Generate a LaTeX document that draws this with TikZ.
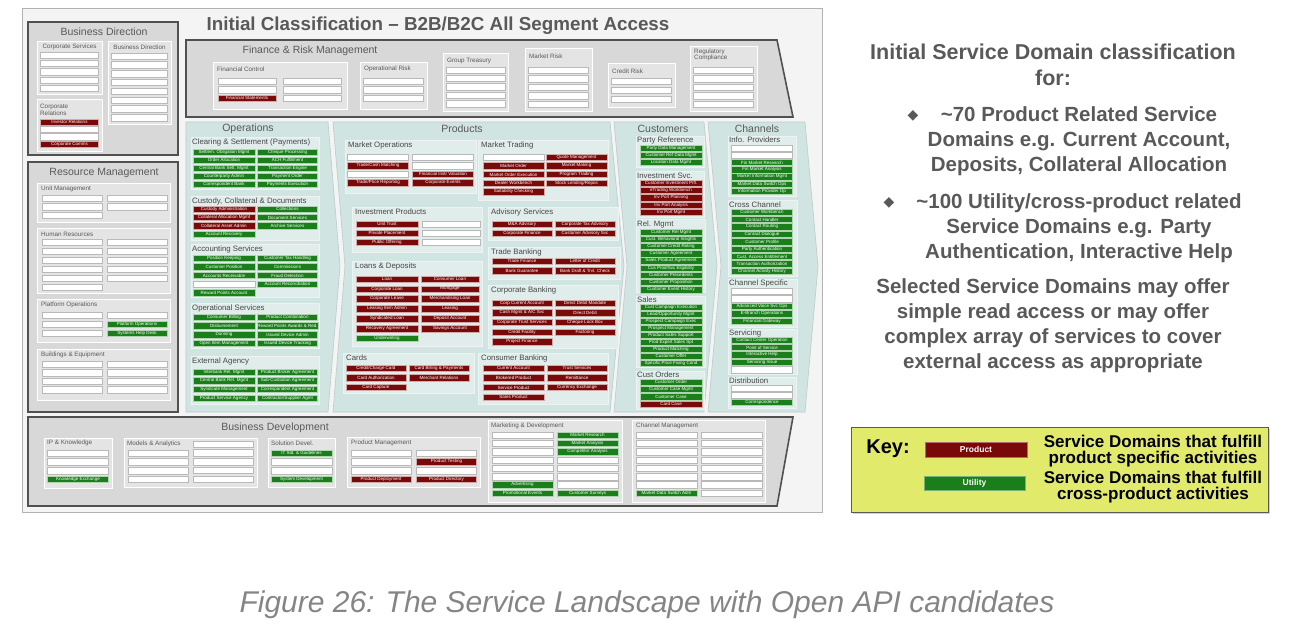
\documentclass[tikz,border=0pt]{standalone}
\usepackage{fontspec}
\setmainfont{Liberation Sans}
\newfontfamily\dejavu{DejaVu Sans}
\usetikzlibrary{shadows}
\definecolor{prodred}{HTML}{7A0A0A}
\definecolor{utilgreen}{HTML}{1A7F1A}
\definecolor{panelgray}{HTML}{D8D8D8}
\definecolor{panelborder}{HTML}{505050}
\definecolor{subgray}{HTML}{E4E4E4}
\definecolor{teal1}{HTML}{D0E4E1}
\definecolor{teal2}{HTML}{E1EDEB}
\definecolor{txtgray}{HTML}{595959}
\definecolor{keyyellow}{HTML}{E2EA6C}
\definecolor{capgray}{HTML}{858585}
\definecolor{framebg}{HTML}{F4F4F4}
\tikzset{
 sdb/.style={draw, line width=0.35pt, inner sep=0pt, minimum height=6.4pt, font=\fontsize{4.5}{4.5}\selectfont, anchor=center},
 sdp/.style={sdb, fill=prodred, draw=prodred!35, text=white},
 sdu/.style={sdb, fill=utilgreen, draw=utilgreen!35, text=white},
 sdw/.style={sdb, fill=white, draw=gray!55},
 bigpanel/.style={fill=panelgray, draw=panelborder, line width=1.6pt},
 tealpanel/.style={fill=teal1, draw=teal1!75!gray, line width=0.6pt},
 subg/.style={fill=subgray, draw=white, line width=0.7pt},
 subt/.style={fill=teal2, draw=white!60!teal1, line width=0.7pt},
 ptitle/.style={font=\fontsize{10.5}{11}\selectfont, text=txtgray, inner sep=0pt},
 stitle/.style={font=\fontsize{6.3}{6.6}\selectfont, text=txtgray, anchor=west, inner sep=0pt, align=left},
 ttitle/.style={font=\fontsize{7.8}{8}\selectfont, text=txtgray!80!black, anchor=west, inner sep=0pt},
 rtxt/.style={font=\fontsize{20.5}{25}\selectfont\bfseries, text=txtgray, align=center, inner sep=0pt},
 ktxt/.style={font=\fontsize{17}{16}\selectfont\bfseries, text=black, align=center, inner sep=0pt}
}
\newcommand\sdit[6]{\node[#1, minimum width=#5] (#2) at ({#3},{#4}) {#6};}
\newcommand\sdcol[6]{%
 \foreach \s/\t [count=\i] in {#6} {\expandafter\sdit\expandafter{\s}{#1\i}{#2}{#3+(\i-1)*#4}{#5}{\t}}}
\begin{document}
\begin{tikzpicture}[x=1pt,y=-1pt]
\useasboundingbox (0,0) rectangle (1291,633);
\draw[fill=framebg, draw=gray!60] (22,8) rectangle (822,512);
\node[font=\fontsize{18.8}{19}\selectfont\bfseries, text=txtgray] (maintitle) at (438,26) {Initial Classification – B2B/B2C All Segment Access};

% ---------------- Business Direction
\draw[bigpanel] (28,22) rectangle (178,155);
\node[ptitle] (bdt) at (104,32) {Business Direction};
\draw[subg] (37,41) rectangle (102,94);
\node[stitle, anchor=center] (cst) at (69.5,47) {Corporate Services};
\sdcol{cs}{69.5}{55}{8.3}{58}{sdw/{},sdw/{},sdw/{},sdw/{},sdw/{}}
\draw[subg] (108,41) rectangle (171,124);
\node[stitle, anchor=center] (bdst) at (139.5,47) {Business Direction};
\sdcol{bds}{139.5}{56}{8.8}{56}{sdw/{},sdw/{},sdw/{},sdw/{},sdw/{},sdw/{},sdw/{},sdw/{}}
\draw[subg] (37,99) rectangle (102,151);
\node[stitle] (crt) at (40,110) {Corporate\\Relations};
\sdcol{cr}{69.5}{122}{7.3}{58}{sdp/Investor Relations,sdw/{},sdw/{},sdp/Corporate Comms}

% ---------------- Finance & Risk
\draw[bigpanel] (186,40) -- (777,40) -- (793,117) -- (186,117) -- cycle;
\node[ptitle] (frt) at (310,51) {Finance \& Risk Management};
\draw[subg] (213,62) rectangle (347,109);
\node[stitle] (fct) at (217,69) {Financial Control};
\sdcol{fca}{247}{81}{8.5}{58}{sdw/{},sdw/{},sdp/Financial Statements}
\sdcol{fcb}{312}{81}{8.5}{58}{sdw/{},sdw/{},sdw/{}}
\draw[subg] (360,62) rectangle (427,109);
\node[stitle] (ort) at (364,69) {Operational Risk};
\sdcol{or}{393.5}{81}{8.5}{60}{sdw/{},sdw/{},sdw/{}}
\draw[subg] (443,53) rectangle (508,111);
\node[stitle] (gtt) at (447,61) {Group Treasury};
\sdcol{gt}{475.5}{70}{8.4}{59}{sdw/{},sdw/{},sdw/{},sdw/{},sdw/{}}
\draw[subg] (525,48) rectangle (592,111);
\node[stitle] (mrt) at (529,56) {Market Risk};
\sdcol{mr}{558.5}{70}{8.6}{60}{sdw/{},sdw/{},sdw/{},sdw/{},sdw/{}}
\draw[subg] (608,63) rectangle (675,107);
\node[stitle] (crkt) at (612,71) {Credit Risk};
\sdcol{crk}{641.5}{81}{9}{60}{sdw/{},sdw/{},sdw/{}}
\draw[subg] (690,46) rectangle (757,111);
\node[stitle] (rct) at (694,55) {Regulatory\\Compliance};
\sdcol{rc}{723.5}{70}{8.5}{60}{sdw/{},sdw/{},sdw/{},sdw/{},sdw/{}}

% ---------------- Resource Management
\draw[bigpanel] (28,162) rectangle (178,412);
\node[ptitle] (rmt) at (104,173) {Resource Management};
\draw[subg] (37,183) rectangle (170,222);
\node[stitle] (umt) at (41,189) {Unit Management};
\sdcol{uma}{72}{198}{8.6}{60}{sdw/{},sdw/{},sdw/{}}
\sdcol{umb}{137}{198}{8.6}{60}{sdw/{},sdw/{}}
\draw[subg] (37,228) rectangle (170,293);
\node[stitle] (hrt) at (41,234) {Human Resources};
\sdcol{hra}{72}{242}{9}{60}{sdw/{},sdw/{},sdw/{},sdw/{},sdw/{},sdw/{}}
\sdcol{hrb}{137}{242}{9}{60}{sdw/{},sdw/{},sdw/{},sdw/{},sdw/{}}
\draw[subg] (37,299) rectangle (170,342);
\node[stitle] (pot) at (41,305) {Platform Operations};
\sdcol{poa}{72}{315}{9}{60}{sdw/{},sdw/{},sdw/{}}
\sdcol{pob}{137}{315}{9}{60}{sdw/{},sdu/Platform Operations,sdu/Systems Help Desk}
\draw[subg] (37,349) rectangle (170,400);
\node[stitle] (bet) at (41,355) {Buildings \& Equipment};
\sdcol{bea}{72}{364}{8.5}{60}{sdw/{},sdw/{},sdw/{},sdw/{}}
\sdcol{beb}{137}{364}{8.5}{60}{sdw/{},sdw/{},sdw/{},sdw/{}}

% ---------------- Operations
\draw[tealpanel] (186,122) -- (328,122) -- (340,266) -- (328,412) -- (186,412) -- cycle;
\node[ptitle] (opt) at (248,129) {Operations};
\draw[subt] (191,137) rectangle (319,189);
\node[ttitle] (cspt) at (192,142) {Clearing \& Settlement (Payments)};
\sdcol{csa}{224}{152}{8.1}{62}{sdu/Settlem. Obligation Mgmt,sdu/Order Allocation,sdu/Central Bank Sett. Mgmt,sdu/Counterparty Admin,sdu/Correspondent Bank}
\sdcol{csb}{287.5}{152}{8.1}{60}{sdu/Cheque Processing,sdu/ACH Fulfillment,sdu/Transaction Engine,sdu/Payment Order,sdu/Payments Execution}
\draw[subt] (191,196) rectangle (319,240);
\node[ttitle] (ccdt) at (192,201) {Custody, Collateral \& Documents};
\sdcol{cca}{224}{209}{8.4}{62}{sdp/Custody Administration,sdp/Collateral Allocation Mgmt,sdp/Collateral Asset Admin,sdu/Account Recovery}
\sdcol{ccb}{287.5}{209}{8.4}{60}{sdu/Collections,sdu/Document Services,sdu/Archive Services}
\draw[subt] (191,244) rectangle (319,297);
\node[ttitle] (ast) at (192,249) {Accounting Services};
\sdcol{asa}{224}{258}{8.7}{62}{sdu/Position Keeping,sdu/Customer Position,sdu/Accounts Receivable,sdw/{},sdu/Reward Points Account}
\sdcol{asb}{287.5}{258}{8.7}{60}{sdu/Customer Tax Handling,sdu/Commissions,sdu/Fraud Detection,sdu/Account Reconciliation}
\draw[subt] (191,303) rectangle (319,348);
\node[ttitle] (ost) at (192,308) {Operational Services};
\sdcol{osa}{224}{317}{8.8}{62}{sdu/Consumer Billing,sdu/Disbursement,sdu/Dunning,sdu/Open Item Management}
\sdcol{osb}{287.5}{317}{8.8}{60}{sdu/Product Combination,sdu/Reward Points Awards \& Red.,sdu/Issued Device Admin,sdu/Issued Device Tracking}
\draw[subt] (191,356) rectangle (319,404);
\node[ttitle] (eat) at (192,361) {External Agency};
\sdcol{eaa}{224}{372}{8.7}{62}{sdu/Interbank Rel. Mgmt,sdu/Central Bank Rel. Mgmt,sdu/Syndicate Management,sdu/Product Service Agency}
\sdcol{eab}{287.5}{372}{8.7}{60}{sdu/Product Broker Agreement,sdu/Sub-Custodian Agreement,sdu/Correspondent Agreement,sdu/{Contractor/Supplier Agmt}}

% ---------------- Products
\draw[tealpanel] (333,122) -- (610,122) -- (624,266) -- (610,412) -- (333,412) -- (345,266) -- cycle;
\node[ptitle] (prt) at (462,129) {Products};
\draw[subt] (345,140) rectangle (476,193);
\node[ttitle] (mot) at (348,145) {Market Operations};
\sdcol{moa}{378}{157}{8.6}{61}{sdw/{},sdp/{Trade/Cash Matching},sdw/{},sdp/{Trade/Price Reporting}}
\sdcol{mob}{443}{157}{8.6}{61}{sdw/{},sdw/{},sdp/Financial Instr Valuation,sdp/Corporate Events}
\draw[subt] (478,140) rectangle (608,200);
\node[ttitle] (mtt) at (481,145) {Market Trading};
\sdcol{mta}{513.5}{157}{8.7}{61}{sdw/{},sdp/Market Order,sdp/Market Order Execution,sdp/Dealer Workbench,sdp/Suitability Checking}
\sdcol{mtb}{576.5}{157}{8.7}{61}{sdp/Quote Management,sdp/Market Making,sdp/Program Trading,sdp/{Stock Lending/Repos}}
\draw[subt] (352,207) rectangle (482,252);
\node[ttitle] (ipt) at (355,212) {Investment Products};
\sdcol{ipa}{387}{224}{9}{62}{sdp/Unit Trust,sdp/Private Placement,sdp/Public Offering}
\sdcol{ipb}{451}{224}{9}{58}{sdw/{},sdw/{},sdw/{}}
\draw[subt] (488,207) rectangle (618,240);
\node[ttitle] (avt) at (491,212) {Advisory Services};
\sdcol{ava}{522}{224}{9.2}{60}{sdp/M\&A Advisory,sdp/Corporate Finance}
\sdcol{avb}{585}{224}{9.2}{60}{sdp/Corporate Tax Advisory,sdp/Customer Advisory Svc}
\draw[subt] (488,247) rectangle (620,279);
\node[ttitle] (tbt) at (491,252) {Trade Banking};
\sdcol{tba}{522}{261}{9.5}{60}{sdp/Trade Finance,sdp/Bank Guarantee}
\sdcol{tbb}{585}{261}{9.5}{60}{sdp/Letter of Credit,sdp/Bank Draft \& Trvl. Check}
\draw[subt] (352,261) rectangle (482,346);
\node[ttitle] (ldt) at (355,266) {Loans \& Deposits};
\sdcol{lda}{387}{279}{9.9}{62}{sdp/Loan,sdp/Corporate Loan,sdp/Corporate Lease,sdp/Leasing Item Admin,sdp/Syndicated Loan,sdp/Recovery Agreement,sdu/Underwriting}
\sdcol{ldb}{450}{279}{9.9}{58}{sdp/Consumer Loan,sdp/Mortgage,sdp/Merchandising Loan,sdp/Leasing,sdp/Deposit Account,sdp/Savings Account}
\draw[subt] (488,285) rectangle (618,348);
\node[ttitle] (cbt) at (491,290) {Corporate Banking};
\sdcol{cba}{522}{303}{9.7}{60}{sdp/Corp Current Account,sdp/{Cash Mgmt \& A/C Svc},sdp/Corporate Trust Services,sdp/Credit Facility,sdp/Project Finance}
\sdcol{cbb}{585}{303}{9.7}{60}{sdp/Direct Debit Mandate,sdp/Direct Debit,sdp/Cheque Lock Box,sdp/Factoring}
\draw[subt] (343,353) rectangle (474,393);
\node[ttitle] (cdt) at (346,358) {Cards};
\sdcol{cda}{376}{368}{9.5}{60}{sdp/{Credit/Charge Card},sdp/Card Authorization,sdp/Card Capture}
\sdcol{cdb}{439}{368}{9.5}{60}{sdp/Card Billing \& Payments,sdp/Merchant Relations}
\draw[subt] (478,353) rectangle (608,404);
\node[ttitle] (cnt) at (481,358) {Consumer Banking};
\sdcol{cna}{513.5}{368}{9.7}{61}{sdp/Current Account,sdp/Brokered Product,sdp/Service Product,sdp/Sales Product}
\sdcol{cnb}{577}{368}{9.7}{60}{sdp/Trust Services,sdp/Remittance,sdp/Currency Exchange}

% ---------------- Customers
\draw[tealpanel] (614,122) -- (704,122) -- (717,266) -- (704,412) -- (614,412) -- (627,266) -- cycle;
\node[ptitle] (cut) at (663,129) {Customers};
\draw[subt] (636,136) rectangle (704,167);
\node[ttitle] (prft) at (637,140) {Party Reference};
\sdcol{prf}{671}{148}{7}{62}{sdu/Party Data Management,sdu/Customer Ref Data Mgmt,sdu/Location Data Mgmt}
\draw[subt] (636,171) rectangle (704,217);
\node[ttitle] (ivt) at (637,176) {Investment Svc.};
\sdcol{iv}{671}{183}{7.3}{62}{sdp/Customer Investment Prfl.,sdp/eTrading Workbench,sdp/Inv Port Planning,sdp/Inv Port Analysis,sdp/Inv Port Mgmt}
\draw[subt] (636,219) rectangle (705,292);
\node[ttitle] (rlt) at (637,224) {Rel. Mgmt};
\sdcol{rl}{671}{232}{7.2}{62}{sdu/Customer Rel Mgmt,sdu/Cust. Behavioral Insights,sdu/Customer Credit Rating,sdu/Customer Agreement,sdu/Sales Product Agreement,sdu/{Cus Prod/Svc Eligibility},sdu/Customer Precedents,sdu/Customer Proposition,sdu/Customer Event History}
\draw[subt] (636,296) rectangle (705,367);
\node[ttitle] (slt) at (637,300) {Sales};
\sdcol{sl}{671}{307}{7.05}{62}{sdu/Cust Campaign Execution,sdu/{Lead/Opportunity Mgmt},sdu/Prospect Campaign Exec,sdu/Prospect Management,sdu/Product Sales Support,sdu/Prod Expert Sales Spt,sdu/Product Matching,sdu/Customer Offer,sdu/Specific Price Fixing Cond}
\draw[subt] (636,371) rectangle (704,409);
\node[ttitle] (cot) at (637,375) {Cust Orders};
\sdcol{co}{671}{382}{7.3}{62}{sdu/Customer Order,sdu/Customer Case Mgmt,sdu/Customer Case,sdp/Card Case}

% ---------------- Channels
\draw[tealpanel] (708,122) -- (805,122) -- (818,266) -- (805,412) -- (708,412) -- (721,266) -- cycle;
\node[ptitle] (cht) at (757,129) {Channels};
\draw[subt] (728,136) rectangle (796,196);
\node[ttitle] (ipvt) at (729,140) {Info. Providers};
\sdcol{ipv}{762}{148}{7.2}{61}{sdw/{},sdw/{},sdu/Fin Market Research,sdu/Fin Market Analysis,sdu/Market Information Mgmt,sdu/Market Data Switch Ops,sdu/Information Provider Op}
\draw[subt] (728,200) rectangle (797,276);
\node[ttitle] (xct) at (729,205) {Cross Channel};
\sdcol{xc}{762}{212}{7.4}{61}{sdu/Customer Workbench,sdu/Contact Handler,sdu/Contact Routing,sdu/Contact Dialogue,sdu/Customer Profile,sdu/Party Authentication,sdu/Cust. Access Entitlement,sdu/Transaction Authorization,sdu/Channel Activity History}
\draw[subt] (728,279) rectangle (797,327);
\node[ttitle] (cspt2) at (729,283) {Channel Specific};
\sdcol{chs}{762}{291}{7.6}{61}{sdw/{},sdw/{},sdu/Advanced Voice Svc Ops,sdu/E-Branch Operations,sdu/Financial Gateway}
\draw[subt] (728,329) rectangle (797,374);
\node[ttitle] (svt) at (729,333) {Servicing};
\sdcol{sv}{762}{340}{7.4}{61}{sdu/Contact Center Operation,sdu/Point of Service,sdu/Interactive Help,sdu/Servicing Issue,sdw/{}}
\draw[subt] (728,377) rectangle (796,408);
\node[ttitle] (dst) at (729,381) {Distribution};
\sdcol{ds}{762}{388}{7}{61}{sdw/{},sdw/{},sdu/Correspondence}

% ---------------- Business Development
\draw[bigpanel] (28,417) -- (793,417) -- (777,506) -- (28,506) -- cycle;
\node[ptitle] (bdvt) at (275,428) {Business Development};
\draw[subg] (44,438) rectangle (112,488);
\node[stitle] (ikt) at (47,443) {IP \& Knowledge};
\sdcol{ik}{78}{453}{8.8}{61}{sdw/{},sdw/{},sdw/{},sdu/Knowledge Exchange}
\draw[subg] (124,438) rectangle (257,487);
\node[stitle] (mat) at (127,444) {Models \& Analytics};
\sdcol{maa}{158}{453}{8.8}{60}{sdw/{},sdw/{},sdw/{},sdw/{}}
\sdcol{mab}{223}{444}{8.8}{60}{sdw/{},sdw/{},sdw/{},sdw/{},sdw/{}}
\draw[subg] (268,438) rectangle (335,487);
\node[stitle] (sdt) at (271,443) {Solution Devel.};
\sdcol{sdv}{301.5}{453}{8.8}{61}{sdu/IT Std. \& Guidelines,sdw/{},sdw/{},sdu/System Development}
\draw[subg] (347,437) rectangle (480,487);
\node[stitle] (pmt) at (351,443) {Product Management};
\sdcol{pma}{381}{453}{8.8}{60}{sdw/{},sdw/{},sdw/{},sdp/Product Deployment}
\sdcol{pmb}{446.5}{453}{8.8}{60}{sdw/{},sdp/Product Testing,sdw/{},sdp/Product Directory}
\draw[subg] (488,420) rectangle (622,502);
\node[stitle] (mdt) at (491,426) {Marketing \& Development};
\sdcol{mda}{522.5}{435}{8.3}{61}{sdw/{},sdw/{},sdw/{},sdw/{},sdw/{},sdw/{},sdu/Advertising,sdu/Promotional Events}
\sdcol{mdb}{587.5}{435}{8.3}{61}{sdu/Market Research,sdu/Market Analysis,sdu/Competitor Analysis,sdw/{},sdw/{},sdw/{},sdw/{},sdu/Customer Surveys}
\draw[subg] (632,420) rectangle (765,502);
\node[stitle] (cmt) at (636,426) {Channel Management};
\sdcol{cma}{666.5}{435}{8.3}{61}{sdw/{},sdw/{},sdw/{},sdw/{},sdw/{},sdw/{},sdw/{},sdu/Market Data Switch Adm}
\sdcol{cmb}{731.5}{435}{8.3}{61}{sdw/{},sdw/{},sdw/{},sdw/{},sdw/{},sdw/{},sdw/{},sdw/{}}

% ---------------- Right-hand text
\node[rtxt, font=\fontsize{21.5}{26}\selectfont\bfseries] (hdr) at (1053,65) {Initial Service Domain classification\\for:};
\node[text=txtgray, inner sep=0pt, font=\dejavu\fontsize{14}{14}\selectfont] (bul1) at (913,116) {◆};
\node[rtxt] (b1) at (1079,141) {\textasciitilde70 Product Related Service\\Domains e.g. Current Account,\\Deposits, Collateral Allocation};
\node[text=txtgray, inner sep=0pt, font=\dejavu\fontsize{14}{14}\selectfont] (bul2) at (889,203) {◆};
\node[rtxt] (b2) at (1079,228) {\textasciitilde100 Utility/cross-product related\\Service Domains e.g. Party\\Authentication, Interactive Help};
\node[rtxt] (para) at (1053,326) {Selected Service Domains may offer\\simple read access or may offer\\complex array of services to cover\\external access as appropriate};

% ---------------- Key
\node[draw=gray!70!black, fill=keyyellow, line width=0.6pt, minimum width=417pt, minimum height=85pt, inner sep=0pt,
 drop shadow={shadow xshift=1.5pt, shadow yshift=-1.5pt, opacity=0.35}] (key) at (1059.5,469.5) {};
\node[font=\fontsize{20}{20}\selectfont\bfseries, inner sep=0pt] (keyt) at (888,449) {Key:};
\node[fill=prodred, draw=prodred!60, minimum width=102pt, minimum height=15pt, inner sep=0pt, text=white, font=\fontsize{8.5}{9}\selectfont\bfseries] (kprod) at (976,449.5) {Product};
\node[fill=utilgreen, draw=utilgreen!60, minimum width=101pt, minimum height=14pt, inner sep=0pt, text=white, font=\fontsize{8.5}{9}\selectfont\bfseries] (kutil) at (974.5,483) {Utility};
\node[ktxt] (kpt) at (1153,451) {Service Domains that fulfill\\product specific activities};
\node[ktxt] (kut) at (1153,487) {Service Domains that fulfill\\cross-product activities};

% ---------------- Caption
\node[text=capgray, inner sep=0pt, font=\fontsize{30}{30}\selectfont\itshape] (cap) at (647,605) {Figure 26: The Service Landscape with Open API candidates};
\end{tikzpicture}
\end{document}
